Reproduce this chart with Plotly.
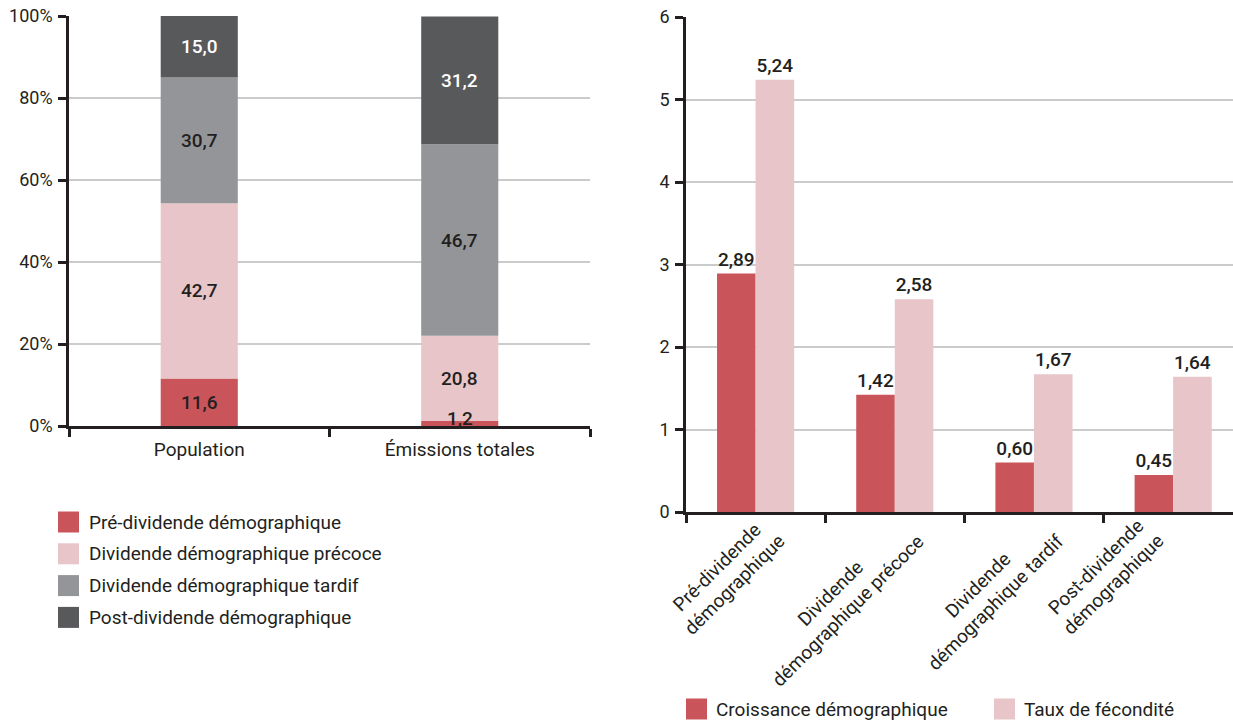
import plotly.graph_objects as go

# ---- data -------------------------------------------------------------
stack_categories = ["Population", "Émissions totales"]
stack_series = [
    "Pré-dividende démographique",
    "Dividende démographique précoce",
    "Dividende démographique tardif",
    "Post-dividende démographique",
]
stack_values = [
    [11.6, 1.2],   # Pré-dividende
    [42.7, 20.8],  # Dividende précoce
    [30.7, 46.7],  # Dividende tardif
    [15.0, 31.2],  # Post-dividende
]
pct_ticks = [0, 20, 40, 60, 80, 100]

group_categories = [
    "Pré-dividende<br>démographique",
    "Dividende<br>démographique précoce",
    "Dividende<br>démographique tardif",
    "Post-dividende<br>démographique",
]
group_series = ["Croissance démographique", "Taux de fécondité"]
croissance = [2.89, 1.42, 0.60, 0.45]
fecondite = [5.24, 2.58, 1.67, 1.64]
rate_ticks = [0, 1, 2, 3, 4, 5, 6]

# ---- style ------------------------------------------------------------
W, H = 1233, 721
FONT = "Roboto"
INK = "#231f20"
GRID = "#cbcbcb"
stack_colors = ["#c9555b", "#e7c5c8", "#949599", "#58595b"]
stack_label_colors = [INK, INK, INK, "#ffffff"]
group_colors = ["#c9555b", "#e7c5c8"]
# small per-label nudges (px) for the rotated category labels
label_nudge = [0, 0, 0, -39]


def px(x):
    return x / W


def py(y):
    return 1 - y / H


fig = go.Figure()

# ---- left: 100 % stacked bars -----------------------------------------
annotations = []
bases = [0.0] * len(stack_categories)
for name, vals, col, lcol in zip(stack_series, stack_values, stack_colors, stack_label_colors):
    fig.add_trace(go.Bar(
        x=stack_categories, y=vals, base=list(bases), name=name,
        marker=dict(color=col, line=dict(width=0)),
        offsetgroup="stack", width=0.296, offset=-0.148,
        xaxis="x", yaxis="y", showlegend=False, hoverinfo="skip",
    ))
    for cat, b, v in zip(stack_categories, bases, vals):
        thin = v < 4
        annotations.append(dict(
            x=cat, y=b if thin else b + v / 2, xref="x", yref="y",
            text=f"{v:.1f}".replace(".", ","), showarrow=False,
            yanchor="bottom" if thin else "middle", yshift=-6 if thin else 0,
            font=dict(family=FONT, size=19, color=lcol, weight=500),
        ))
    bases = [b + v for b, v in zip(bases, vals)]

# ---- right: grouped bars ------------------------------------------------
for i, (name, vals, col) in enumerate(zip(group_series, [croissance, fecondite], group_colors)):
    fig.add_trace(go.Bar(
        x=list(range(len(group_categories))), y=vals, name=name,
        marker=dict(color=col, line=dict(width=0)),
        offsetgroup=f"g{i}", width=0.277, offset=-0.277 + i * 0.277,
        texttemplate="%{y:.2f}", textposition="outside", cliponaxis=False,
        textfont=dict(family=FONT, size=19, color=INK, weight=500),
        xaxis="x2", yaxis="y2", showlegend=False, hoverinfo="skip",
    ))

# rotated, centre-aligned category labels under the grouped bars
for i, lab in enumerate(group_categories):
    annotations.append(dict(
        x=i, y=0, xref="x2", yref="y2", text=lab, showarrow=False,
        textangle=-45, align="center", xanchor="right", yanchor="top",
        xshift=37 + label_nudge[i], yshift=2,
        font=dict(family=FONT, size=19, color=INK),
    ))

# ---- hand-drawn legends ----------------------------------------------
shapes = []
SW = 21
for k, (name, col) in enumerate(zip(stack_series, stack_colors)):
    cy = 522 + k * 31.8
    shapes.append(dict(type="rect", xref="paper", yref="paper",
                       x0=px(58), x1=px(58 + SW), y0=py(cy - SW / 2), y1=py(cy + SW / 2),
                       fillcolor=col, line=dict(width=0)))
    annotations.append(dict(x=px(87), y=py(cy), xref="paper", yref="paper", text=name,
                            showarrow=False, xanchor="left", yanchor="middle",
                            font=dict(family=FONT, size=19, color=INK)))

for name, col, x0 in zip(group_series, group_colors, [686, 994]):
    cy = 709
    shapes.append(dict(type="rect", xref="paper", yref="paper",
                       x0=px(x0), x1=px(x0 + SW), y0=py(cy - SW / 2), y1=py(cy + SW / 2),
                       fillcolor=col, line=dict(width=0)))
    annotations.append(dict(x=px(x0 + 28), y=py(cy), xref="paper", yref="paper", text=name,
                            showarrow=False, xanchor="left", yanchor="middle",
                            font=dict(family=FONT, size=19, color=INK)))

axis_common = dict(
    showline=True, linecolor=INK, linewidth=2.5,
    ticks="outside", ticklen=8, tickwidth=2.5, tickcolor=INK,
    zeroline=False, fixedrange=True, automargin=False,
)

fig.update_layout(
    width=W, height=H,
    autosize=False,
    margin=dict(l=0, r=0, t=0, b=0, pad=0, autoexpand=False),
    paper_bgcolor="white", plot_bgcolor="white",
    separators=", ",
    barmode="group",
    font=dict(family=FONT, size=19, color=INK),
    xaxis=dict(domain=[px(69), px(590)], anchor="y", type="category",
               range=[-0.5, 1.5], tickson="boundaries", showgrid=False,
               tickfont=dict(size=19), ticklabelstandoff=4, **axis_common),
    yaxis=dict(domain=[py(426), py(16)], anchor="x", range=[0, 100],
               tickvals=pct_ticks, ticktext=[f"{t}%" for t in pct_ticks],
               showgrid=True, gridcolor=GRID, gridwidth=1.5,
               tickfont=dict(size=18), ticklabelstandoff=2, **axis_common),
    xaxis2=dict(domain=[px(686), 1], anchor="y2", type="linear",
                range=[-0.5, 3.43], tickvals=[-0.5, 0.5, 1.5, 2.5, 3.5],
                showticklabels=False, showgrid=False, **axis_common),
    yaxis2=dict(domain=[py(512), py(17)], anchor="x2", range=[0, 6],
                tickvals=rate_ticks, showgrid=True, gridcolor=GRID, gridwidth=1.5,
                tickfont=dict(size=18), ticklabelstandoff=2, **axis_common),
    annotations=annotations,
    shapes=shapes,
)

fig.write_html("out.html")
